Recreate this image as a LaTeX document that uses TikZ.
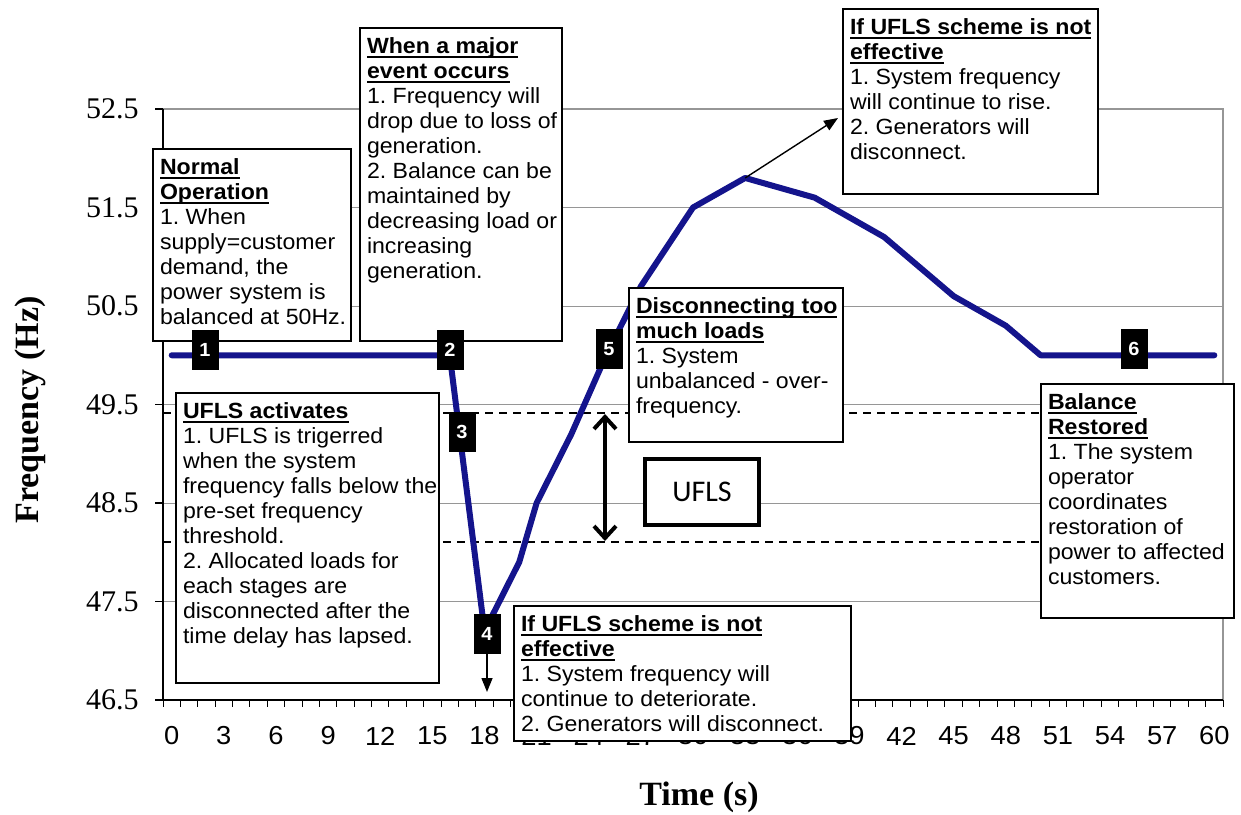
\documentclass[tikz,border=0pt]{standalone}
\usepackage{fontspec}
\setmainfont{Liberation Serif}
\newfontfamily\notefont{Liberation Sans}[FakeStretch=1.05]
\newfontfamily\uflsfont{Carlito}
\usetikzlibrary{arrows.meta}
\frenchspacing

\definecolor{curveblue}{RGB}{20,20,140}
\definecolor{gridgray}{RGB}{150,150,150}

\newcommand{\headline}[1]{\leavevmode\setbox0\hbox{\bfseries #1}\rlap{\rule[-1.8pt]{\wd0}{0.7pt}}\box0}
\newcommand{\notetext}[3]{\makebox[\dimexpr#1pt/2-7pt\relax][l]{\parbox[t][\dimexpr#2pt/2-10pt\relax][t]{300pt}{\raggedright #3}}}

\begin{document}
\begin{tikzpicture}[x=0.5pt,y=-0.5pt]
\tikzstyle{every node}+=[inner sep=0pt]
\tikzset{
  note/.style={draw=black, line width=1pt, fill=white, anchor=north west, inner xsep=3.5pt, inner ysep=5pt, font=\notefont\fontsize{11}{12.5}\selectfont},
  marker/.style={fill=black, text=white, minimum width=13.5pt, minimum height=20pt, font=\notefont\bfseries\fontsize{9.5}{9.5}\selectfont},
  pointer/.style={black, line width=0.7pt, -{Triangle[length=7pt,width=5.5pt]}}
}
\useasboundingbox (0,0) rectangle (1241,814);
\foreach \y in {207.5,306,404.5,503,601.5}
  \draw [gridgray, line width=0.5pt] (163,\y) -- (1223,\y);
\draw [gridgray, line width=0.6pt] (163,109) -- (1223,109) -- (1223,700);
\draw [black, line width=0.8pt] (163,109) -- (163,700) -- (1223,700);
\foreach \y/\lab [count=\i] in {109/52.5,207.5/51.5,306/50.5,404.5/49.5,503/48.5,601.5/47.5,700/46.5} {
  \draw [black, line width=0.6pt] (155,\y) -- (163,\y);
  \node [anchor=east, font=\fontsize{15}{15}\selectfont] (ylab\i) at (139,\y) {\lab};
}
\foreach \k in {0,...,61}
  \draw [black, line width=0.5pt] ({163+17.377*\k},700) -- ++(0,7);
\foreach \t in {0,3,...,60}
  \node [font=\notefont\fontsize{13}{13}\selectfont] (xlab\t) at ({171.7+17.377*\t},736) {\t};
\node [rotate=90, font=\bfseries\fontsize{17}{17}\selectfont] (ytitle) at (30,410) {Frequency (Hz)};
\node [font=\bfseries\fontsize{17}{17}\selectfont] (xtitle) at (699,797) {Time (s)};
\draw [black, line width=0.6pt, dash pattern=on 4pt off 3pt] (163,413) -- (1223,413);
\draw [black, line width=0.6pt, dash pattern=on 4pt off 3pt] (163,542) -- (1223,542);
\coordinate (bandTop) at (605,414);
\coordinate (bandBot) at (605,541);
\draw [black, line width=2pt, {Straight Barb[length=6pt,width=11pt]}-{Straight Barb[length=6pt,width=11pt]}] (bandTop) -- (bandBot);
\begin{scope}[shift={(171.7,5280.25)}, x=8.6885pt, y=49.25pt]
\draw [curveblue, line width=3pt, line cap=round, line join=round] (0,50) -- (16,50) -- (18,47.2) -- (20,47.9) -- (21,48.5) -- (23,49.2) -- (25,50) -- (27,50.7) -- (30,51.5) -- (33,51.8) -- (37,51.6) -- (41,51.2) -- (45,50.6) -- (48,50.3) -- (50,50) -- (60,50);
\coordinate (peak) at (33,51.8);
\end{scope}
\node [note] (normal) at (152,148) {\notetext{198}{192}{\headline{Normal}\\\headline{Operation}\\1. When\\supply=customer\\demand, the\\power system is\\balanced at 50Hz.}};
\node [note] (event) at (359,27) {\notetext{202}{313}{\headline{When a major}\\\headline{event occurs}\\1. Frequency will\\drop due to loss of\\generation.\\2. Balance can be\\maintained by\\decreasing load or\\increasing\\generation.}};
\node [note] (risefail) at (842,8) {\notetext{255}{185}{\headline{If UFLS scheme is not}\\\headline{effective}\\1. System frequency\\will continue to rise.\\2. Generators will\\disconnect.}};
\node [note] (toomuch) at (628,287) {\notetext{214}{154}{\headline{Disconnecting too}\\\headline{much loads}\\1. System\\unbalanced - over-\\frequency.}};
\node [note] (restored) at (1040,383) {\notetext{193}{234}{\headline{Balance}\\\headline{Restored}\\1. The system\\operator\\coordinates\\restoration of\\power to affected\\customers.}};
\node [note] (activates) at (175,392) {\notetext{263}{290}{\headline{UFLS activates}\\1. UFLS is trigerred\\when the system\\frequency falls below the\\pre-set frequency\\threshold.\\2. Allocated loads for\\each stages are\\disconnected after the\\time delay has lapsed.}};
\node [note] (dropfail) at (513,605) {\notetext{337}{135}{\headline{If UFLS scheme is not}\\\headline{effective}\\1. System frequency will\\continue to deteriorate.\\2. Generators will disconnect.}};
\node [draw=black, line width=2pt, fill=white, minimum width=57pt, minimum height=33pt, font=\uflsfont\fontsize{15}{15}\selectfont] (band) at (702,492) {UFLS};
\node [marker] (m1) at (205,350) {1};
\node [marker] (m2) at (450,350) {2};
\node [marker] (m3) at (462,432) {3};
\node [marker] (m4) at (487,634) {4};
\node [marker] (m5) at (609,349) {5};
\node [marker] (m6) at (1134,349) {6};
\coordinate (dropTip) at (487,692);
\coordinate (riseTip) at (838,118);
\draw [pointer] (m4) -- (dropTip);
\draw [pointer] (peak) -- (riseTip);
\end{tikzpicture}
\end{document}
